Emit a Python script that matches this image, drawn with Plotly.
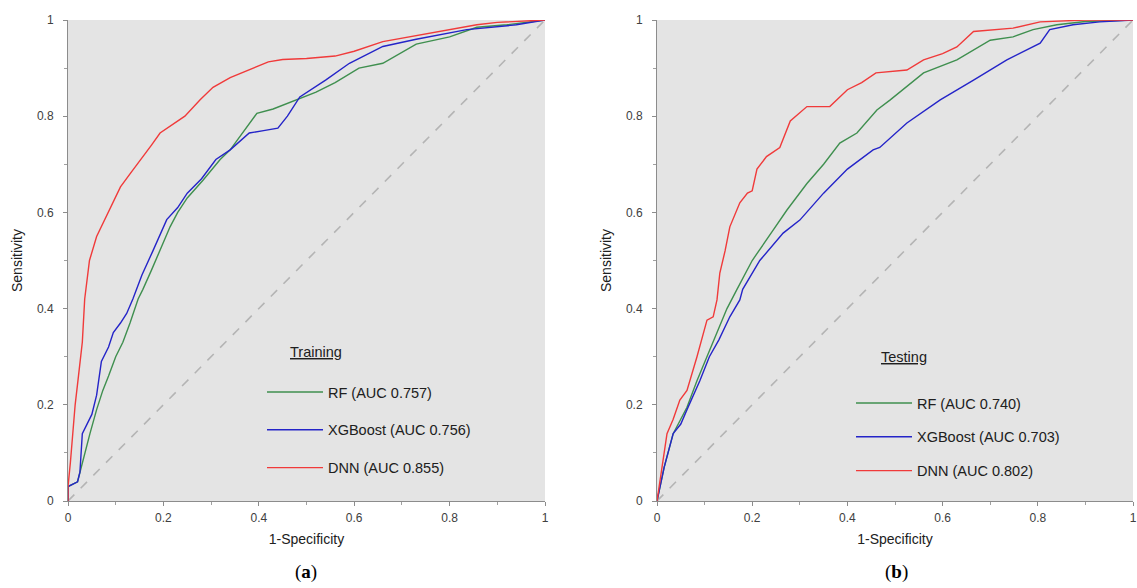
import plotly.graph_objects as go

# ---------------- data ----------------
train_dnn_fpr = [0, 0, 0.005, 0.01, 0.015, 0.022, 0.03, 0.035, 0.045, 0.06, 0.07, 0.085, 0.1, 0.11, 0.13, 0.157, 0.175, 0.193, 0.215, 0.245, 0.277, 0.304, 0.34, 0.38, 0.42, 0.45, 0.5, 0.56, 0.6, 0.66, 0.7, 0.765, 0.8, 0.857, 0.9, 0.95, 1]
train_dnn_tpr = [0, 0.03, 0.08, 0.15, 0.2, 0.26, 0.33, 0.42, 0.5, 0.55, 0.57, 0.6, 0.63, 0.653, 0.68, 0.715, 0.74, 0.765, 0.78, 0.8, 0.834, 0.86, 0.88, 0.896, 0.913, 0.918, 0.92, 0.925, 0.935, 0.955, 0.962, 0.973, 0.98, 0.99, 0.995, 0.998, 1]

train_rf_fpr = [0, 0, 0.02, 0.025, 0.035, 0.046, 0.06, 0.073, 0.085, 0.1, 0.115, 0.13, 0.147, 0.157, 0.175, 0.193, 0.214, 0.23, 0.25, 0.283, 0.319, 0.34, 0.37, 0.396, 0.43, 0.48, 0.52, 0.56, 0.61, 0.66, 0.73, 0.8, 0.857, 0.92, 1]
train_rf_tpr = [0, 0.03, 0.04, 0.06, 0.1, 0.14, 0.19, 0.23, 0.26, 0.30, 0.33, 0.37, 0.42, 0.44, 0.48, 0.52, 0.57, 0.6, 0.63, 0.667, 0.71, 0.73, 0.77, 0.806, 0.815, 0.834, 0.85, 0.87, 0.90, 0.91, 0.95, 0.965, 0.985, 0.99, 1]

train_xgb_fpr = [0, 0, 0.02, 0.025, 0.03, 0.04, 0.05, 0.06, 0.07, 0.085, 0.095, 0.11, 0.123, 0.136, 0.155, 0.178, 0.207, 0.23, 0.25, 0.28, 0.31, 0.34, 0.38, 0.41, 0.44, 0.46, 0.486, 0.54, 0.59, 0.66, 0.73, 0.836, 0.94, 1]
train_xgb_tpr = [0, 0.03, 0.04, 0.06, 0.14, 0.16, 0.18, 0.22, 0.29, 0.32, 0.35, 0.37, 0.39, 0.42, 0.47, 0.52, 0.585, 0.61, 0.64, 0.67, 0.71, 0.73, 0.765, 0.77, 0.775, 0.8, 0.84, 0.875, 0.91, 0.945, 0.96, 0.98, 0.99, 1]

test_dnn_fpr = [0, 0.01, 0.021, 0.034, 0.048, 0.063, 0.084, 0.105, 0.118, 0.126, 0.132, 0.143, 0.153, 0.174, 0.19, 0.2, 0.21, 0.23, 0.258, 0.28, 0.315, 0.363, 0.384, 0.4, 0.43, 0.46, 0.525, 0.56, 0.6, 0.63, 0.665, 0.748, 0.805, 0.9, 1]
test_dnn_tpr = [0, 0.07, 0.14, 0.17, 0.21, 0.23, 0.30, 0.376, 0.383, 0.418, 0.474, 0.52, 0.57, 0.62, 0.64, 0.645, 0.69, 0.716, 0.735, 0.79, 0.82, 0.82, 0.84, 0.855, 0.87, 0.89, 0.896, 0.917, 0.93, 0.944, 0.976, 0.983, 0.996, 1, 1]

test_rf_fpr = [0, 0.015, 0.034, 0.05, 0.063, 0.084, 0.105, 0.126, 0.147, 0.168, 0.2, 0.244, 0.273, 0.315, 0.35, 0.384, 0.42, 0.462, 0.49, 0.56, 0.63, 0.7, 0.748, 0.79, 0.84, 0.9, 1]
test_rf_tpr = [0, 0.07, 0.14, 0.17, 0.195, 0.25, 0.30, 0.35, 0.40, 0.44, 0.50, 0.563, 0.605, 0.66, 0.7, 0.744, 0.765, 0.813, 0.834, 0.89, 0.917, 0.958, 0.965, 0.98, 0.99, 0.997, 1]

test_xgb_fpr = [0, 0.015, 0.034, 0.05, 0.063, 0.09, 0.11, 0.13, 0.153, 0.174, 0.18, 0.216, 0.265, 0.3, 0.35, 0.384, 0.4, 0.454, 0.468, 0.525, 0.595, 0.665, 0.735, 0.805, 0.825, 0.874, 0.93, 1]
test_xgb_tpr = [0, 0.07, 0.14, 0.16, 0.19, 0.25, 0.30, 0.335, 0.383, 0.418, 0.44, 0.50, 0.557, 0.584, 0.64, 0.674, 0.69, 0.73, 0.735, 0.786, 0.834, 0.875, 0.917, 0.952, 0.98, 0.99, 0.996, 1]

diag = [0, 1]

train_names = ["RF (AUC 0.757)", "XGBoost (AUC 0.756)", "DNN (AUC 0.855)"]
test_names = ["RF (AUC 0.740)", "XGBoost (AUC 0.703)", "DNN (AUC 0.802)"]
tick_vals = [0, 0.2, 0.4, 0.6, 0.8, 1]
tick_text = ["0", "0.2", "0.4", "0.6", "0.8", "1"]

# ---------------- style ----------------
C_RF = "#3f8f4f"
C_XGB = "#2424c8"
C_DNN = "#f03a3a"
C_DIAG = "#b4b4b4"
BG = "#e4e4e4"
FONT = "Liberation Sans"

fig = go.Figure()

def add_panel(xa, ya, leg, rf, xgb, dnn, names):
    fig.add_trace(go.Scatter(x=diag, y=diag, mode="lines", xaxis=xa, yaxis=ya,
                             line=dict(color=C_DIAG, width=1.6, dash="dash"),
                             showlegend=False, hoverinfo="skip"))
    for (fx, ty), col, nm in zip([rf, xgb, dnn], [C_RF, C_XGB, C_DNN], names):
        fig.add_trace(go.Scatter(x=fx, y=ty, mode="lines", name=nm, xaxis=xa, yaxis=ya,
                                 line=dict(color=col, width=1.4),
                                 legend=leg, legendgroup=leg + nm))

add_panel("x", "y", "legend", (train_rf_fpr, train_rf_tpr), (train_xgb_fpr, train_xgb_tpr),
          (train_dnn_fpr, train_dnn_tpr), train_names)
add_panel("x2", "y2", "legend2", (test_rf_fpr, test_rf_tpr), (test_xgb_fpr, test_xgb_tpr),
          (test_dnn_fpr, test_dnn_tpr), test_names)

W, H = 1137, 588
yd = [1 - 501 / H, 1 - 20 / H]
TITLE_FONT = dict(family=FONT, size=14, color="#202020")

def axis_common():
    return dict(range=[0, 1], showgrid=False, zeroline=False, showline=True,
                linecolor="#8c8c8c", linewidth=1, ticks="outside", ticklen=4,
                tickcolor="#8c8c8c", tickvals=tick_vals, ticktext=tick_text,
                tickfont=dict(family=FONT, size=12, color="#404040"),
                minor=dict(dtick=0.1, tick0=0, ticks="outside", ticklen=3, tickcolor="#a0a0a0"),
                automargin=False, fixedrange=True)

xa1 = axis_common(); xa1.update(domain=[68 / W, 545 / W], anchor="y", ticklabelstandoff=2,
                                title=dict(text="1-Specificity", standoff=9, font=TITLE_FONT))
ya1 = axis_common(); ya1.update(domain=yd, anchor="x", ticklabelstandoff=7,
                                title=dict(text="Sensitivity", standoff=11, font=TITLE_FONT))
xa2 = axis_common(); xa2.update(domain=[657 / W, 1133 / W], anchor="y2", ticklabelstandoff=2,
                                title=dict(text="1-Specificity", standoff=9, font=TITLE_FONT))
ya2 = axis_common(); ya2.update(domain=yd, anchor="x2", ticklabelstandoff=7,
                                title=dict(text="Sensitivity", standoff=11, font=TITLE_FONT))

leg_common = dict(bgcolor="rgba(0,0,0,0)", borderwidth=0, xanchor="left", yanchor="top",
                  font=dict(family=FONT, size=14.5, color="#202020"),
                  itemwidth=56, traceorder="grouped")

fig.update_layout(
    width=W, height=H, autosize=False,
    margin=dict(l=0, r=0, t=0, b=0),
    paper_bgcolor="white", plot_bgcolor=BG,
    xaxis=xa1, yaxis=ya1, xaxis2=xa2, yaxis2=ya2,
    legend=dict(x=262 / W, y=1 - 376 / H, tracegroupgap=16, **leg_common),
    legend2=dict(x=851 / W, y=1 - 387 / H, tracegroupgap=12, **leg_common),
    annotations=[
        dict(text="<u>Training</u>", x=288 / W, y=1 - 352 / H, xref="paper", yref="paper",
             xanchor="left", yanchor="middle", showarrow=False,
             font=dict(family=FONT, size=14.5, color="#202020")),
        dict(text="<u>Testing</u>", x=879 / W, y=1 - 357 / H, xref="paper", yref="paper",
             xanchor="left", yanchor="middle", showarrow=False,
             font=dict(family=FONT, size=14.5, color="#202020")),
        dict(text="(<b>a</b>)", x=306 / W, y=1 - 572 / H, xref="paper", yref="paper",
             xanchor="center", yanchor="middle", showarrow=False,
             font=dict(family="Liberation Serif", size=19, color="#000000")),
        dict(text="(<b>b</b>)", x=896 / W, y=1 - 572 / H, xref="paper", yref="paper",
             xanchor="center", yanchor="middle", showarrow=False,
             font=dict(family="Liberation Serif", size=19, color="#000000")),
    ],
)

fig.write_html("out.html")
